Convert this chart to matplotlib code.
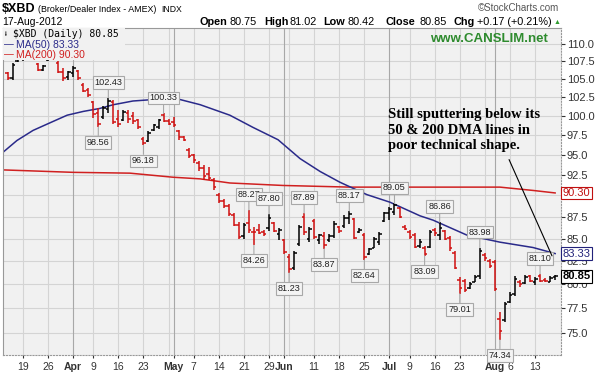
import numpy as np
import pandas as pd
import matplotlib
matplotlib.use("Agg")
import matplotlib.pyplot as plt
from matplotlib.patches import Rectangle

plt.rcParams["font.family"] = ["Liberation Sans", "DejaVu Sans"]

W, H = 598, 374

# ---------------- data ----------------
days = pd.bdate_range("2012-03-14", "2012-08-17")
days = days[~days.isin(pd.to_datetime(["2012-04-06", "2012-05-28", "2012-07-04"]))]

opens = [105.8, 105.1, 107.6, 107.9, 108.4, 108.0, 107.1, 106.3, 107.7, 108.7,
         107.3, 106.0, 105.3, 105.8, 106.2, 104.2, 103.5, 101.8, 100.4, 99.8,
         100.9, 101.9, 99.6, 99.5, 100.4, 100.0, 99.4, 97.0, 96.7, 98.2,
         98.6, 100.1, 99.3, 99.2, 98.0, 97.2, 95.6, 94.9, 94.0, 93.3,
         92.6, 91.9, 90.1, 89.4, 88.8, 87.7, 86.6, 85.3, 86.8, 85.8,
         86.0, 85.7, 86.2, 86.8, 85.5, 84.8, 83.0, 81.7, 84.4, 87.5,
         85.0, 87.0, 84.8, 85.3, 84.8, 85.3, 86.3, 86.4, 87.3, 87.2,
         85.7, 85.4, 83.3, 84.0, 84.6, 87.0, 87.9, 88.1, 88.5, 86.3,
         85.8, 85.4, 84.2, 84.0, 84.1, 86.0, 85.4, 85.9, 85.1, 83.4,
         80.5, 80.4, 79.6, 80.3, 80.9, 83.2, 82.5, 82.4, 76.4, 76.3,
         78.2, 79.0, 80.3, 80.1, 80.9, 80.2, 80.9, 80.5, 80.3, 80.75]
highs = [106.0, 107.3, 108.4, 109.0, 108.6, 108.5, 107.3, 107.0, 108.8, 108.9,
         107.5, 106.5, 106.1, 106.8, 106.3, 104.5, 103.8, 102.0, 101.0, 101.3,
         102.43, 102.1, 100.8, 100.8, 100.8, 100.5, 99.6, 97.3, 98.0, 99.0,
         99.6, 100.33, 99.6, 99.9, 98.2, 97.4, 95.8, 95.1, 94.2, 93.7,
         93.5, 92.1, 90.3, 89.6, 89.0, 87.9, 86.9, 86.8, 88.27, 86.3,
         86.7, 86.0, 87.80, 86.9, 86.2, 84.9, 83.3, 83.6, 86.6, 87.89,
         86.3, 87.2, 85.5, 85.7, 85.5, 87.0, 86.4, 87.7, 88.17, 87.3,
         86.2, 85.6, 83.9, 85.2, 85.7, 88.1, 88.6, 89.05, 88.6, 86.5,
         86.0, 85.6, 85.0, 84.2, 86.0, 86.2, 86.86, 86.0, 85.3, 83.6,
         80.8, 80.6, 80.2, 81.0, 83.98, 83.4, 82.7, 82.6, 77.1, 78.1,
         79.2, 80.9, 80.5, 81.0, 81.0, 80.8, 81.10, 80.7, 80.9, 81.02]
lows = [104.9, 104.9, 107.4, 107.5, 107.8, 107.8, 106.1, 106.1, 107.6, 107.8,
        105.8, 104.8, 104.9, 105.3, 104.9, 103.2, 102.6, 99.7, 98.56, 99.6,
        100.4, 98.9, 98.5, 99.3, 99.1, 98.9, 98.3, 96.18, 96.6, 98.0,
        98.3, 99.2, 98.8, 98.6, 96.9, 96.7, 94.6, 94.0, 93.0, 91.9,
        91.9, 90.7, 89.1, 88.5, 87.6, 86.4, 85.0, 85.0, 85.6, 84.26,
        85.5, 85.3, 85.9, 85.7, 84.8, 83.3, 81.23, 81.5, 84.2, 85.4,
        84.6, 85.0, 84.4, 83.87, 84.6, 85.1, 85.6, 86.2, 86.7, 84.9,
        85.6, 82.64, 83.2, 83.9, 84.3, 86.9, 87.1, 87.7, 87.3, 86.0,
        84.9, 83.9, 84.0, 83.09, 84.0, 85.3, 84.8, 84.8, 83.6, 81.6,
        79.01, 79.2, 79.5, 80.2, 80.6, 82.5, 81.7, 79.3, 74.34, 76.1,
        78.0, 78.8, 79.7, 80.0, 80.3, 79.9, 80.2, 80.3, 80.2, 80.42]
closes = [105.1, 107.0, 108.0, 108.7, 108.0, 108.1, 106.3, 106.9, 108.6, 107.9,
          106.0, 105.2, 106.0, 106.5, 105.2, 103.4, 102.8, 100.2, 98.9, 101.0,
          102.0, 99.2, 99.0, 100.5, 99.6, 99.3, 98.5, 96.5, 97.8, 98.8,
          99.5, 99.3, 99.0, 98.8, 97.2, 96.8, 94.8, 94.3, 93.3, 92.3,
          92.1, 91.0, 89.4, 88.8, 87.8, 86.6, 85.2, 86.5, 86.0, 85.7,
          85.6, 85.5, 87.4, 85.9, 86.0, 83.5, 81.6, 83.4, 86.3, 85.8,
          86.1, 85.2, 85.4, 84.3, 85.3, 86.7, 85.9, 87.4, 87.8, 85.1,
          86.0, 83.0, 83.8, 85.0, 85.5, 87.9, 88.4, 88.9, 87.5, 86.1,
          85.2, 84.1, 84.6, 83.3, 85.8, 85.6, 86.2, 85.0, 84.0, 81.8,
          79.6, 79.4, 80.0, 80.8, 83.6, 82.8, 82.0, 79.5, 75.2, 77.9,
          78.9, 80.6, 80.0, 80.8, 80.4, 80.6, 80.4, 80.35, 80.68, 80.85]

# moving averages (bar index, value)
ma50_pos = [-0.98, 1.8, 5.0, 8.4, 11.8, 15.0, 18.3, 21.0, 24.9, 29.0, 33.7, 38.3,
            44.2, 48.8, 53.8, 58.2, 62.2, 66.1, 71.5, 76.1, 82.1, 84.7, 91.4,
            98.0, 104.6, 109.0]
ma50_val = [95.3, 96.8, 98.1, 99.1, 100.1, 100.6, 101.0, 101.5, 102.0, 102.2, 102.3,
            101.5, 100.1, 98.5, 96.9, 94.5, 92.9, 91.6, 90.1, 89.2, 87.6, 87.1,
            85.4, 84.6, 84.0, 83.33]
ma200_pos = [-0.98, 13.0, 24.3, 32.9, 38.3, 44.2, 54.8, 68.1, 88.1, 98.0, 104.6, 109.0]
ma200_val = [93.1, 92.8, 92.7, 92.2, 92.0, 91.5, 91.2, 91.0, 91.0, 91.0, 90.6, 90.30]

peak_bars = [20, 31, 48, 52, 59, 68, 77, 86, 94, 106]
trough_bars = [18, 27, 49, 56, 63, 71, 83, 90, 98]

# ---------------- figure ----------------
fig = plt.figure(figsize=(W / 100, H / 100), dpi=100)
fig.patch.set_facecolor("white")


def px(x, y):
    return x / W, 1 - y / H


BG = "#F1F1F1"
L, R, T, B = 3, 560.5, 28, 355
ax = fig.add_axes([L / W, 1 - B / H, (R - L) / W, (B - T) / H])
ax.set_facecolor(BG)
ax.set_yscale("log")
ax.set_ylim(72.85, 112.36)
ax.set_xlim(-0.98, 110.07)

xs = np.arange(len(closes))
red = "#D01010"
cols = []
for i in range(len(closes)):
    ref = opens[i] if i == 0 else closes[i - 1]
    cols.append(red if closes[i] < ref else "black")

# grid
yt = np.arange(75, 110.01, 2.5)
for v in yt:
    ax.axhline(v, color="#D4D4D4", lw=0.8, zorder=0)

labels = []
for i, d in enumerate(days):
    if i == 0:
        continue
    prev = days[i - 1]
    if d.month != prev.month:
        labels.append((i, d.strftime("%b"), True))
    elif d.isocalendar().week != prev.isocalendar().week:
        labels.append((i, str(d.day), False))
month_pos = [p for p, _, m in labels if m]
tick_items = []
for p, t, m in labels:
    if not m and min(abs(p - q) for q in month_pos) <= 2:
        continue
    tick_items.append((p, t, m))
for p, t, m in labels:
    ax.axvline(p, color="#A8A8A8" if m else "#D4D4D4", lw=0.8, zorder=0)

# moving averages
ax.plot(ma200_pos, ma200_val, color="#D02020", lw=1.1, zorder=2)
ax.plot(ma50_pos, ma50_val, color="#2A2A8A", lw=1.1, zorder=2)

# OHLC bars
ax.vlines(xs, lows, highs, colors=cols, lw=1.1, zorder=3)
ax.hlines(opens, xs - 0.5, xs, colors=cols, lw=1.1, zorder=3)
ax.hlines(closes, xs, xs + 0.5, colors=cols, lw=1.1, zorder=3)

# price labels
bb = dict(boxstyle="square,pad=0.2", fc="#F4F4F4", ec="#A8A8A8", lw=0.8)
for i in peak_bars:
    ax.annotate(f"{highs[i]:.2f}", (xs[i], highs[i]), xytext=(0, 8), textcoords="offset points",
                ha="center", va="bottom", fontsize=6.6, color="#222222", bbox=bb, zorder=5,
                arrowprops=dict(arrowstyle="-", color="#A8A8A8", lw=0.8, shrinkA=0, shrinkB=0))
for i in trough_bars:
    ax.annotate(f"{lows[i]:.2f}", (xs[i], lows[i]), xytext=(0, -8), textcoords="offset points",
                ha="center", va="top", fontsize=6.6, color="#222222", bbox=bb, zorder=5,
                arrowprops=dict(arrowstyle="-", color="#A8A8A8", lw=0.8, shrinkA=0, shrinkB=0))

# legend background (hides bars under the legend like the original)
ax.add_patch(Rectangle(px(3, 60), (125 - 3) / W, 32 / H, transform=fig.transFigure,
                       fc=BG, ec="none", zorder=8))

# axes styling
ax.yaxis.tick_right()
ax.set_yticks(yt)
ax.set_yticklabels([f"{v:.1f}" for v in yt])
ax.yaxis.set_minor_locator(matplotlib.ticker.NullLocator())
ax.tick_params(axis="y", which="major", labelsize=8, length=3, pad=1.5, colors="#333333")
ax.set_xticks([p for p, _, _ in tick_items])
ax.set_xticklabels([t for _, t, _ in tick_items])
for lab, (_, _, m) in zip(ax.get_xticklabels(), tick_items):
    lab.set_fontweight("bold" if m else "normal")
    lab.set_fontsize(7.5)
ax.tick_params(axis="x", length=2, pad=3, colors="#333333")
for s in ax.spines.values():
    s.set_color("#999999")
    s.set_linewidth(0.8)
ax.spines["right"].set_linestyle(":")
ax.spines["bottom"].set_linestyle(":")

# right side value tags
tagx = 1.004
ax.text(tagx, ma200_val[-1], f"{ma200_val[-1]:.2f}", transform=ax.get_yaxis_transform(),
        ha="left", va="center", fontsize=8, color="#C01010", zorder=6,
        bbox=dict(boxstyle="square,pad=0.12", fc="white", ec="#C01010", lw=0.8), clip_on=False)
ax.text(tagx, ma50_val[-1], f"{ma50_val[-1]:.2f}", transform=ax.get_yaxis_transform(),
        ha="left", va="center", fontsize=8, color="#22227A", zorder=6,
        bbox=dict(boxstyle="square,pad=0.12", fc="white", ec="#22227A", lw=0.8), clip_on=False)
ax.text(tagx, closes[-1], f"{closes[-1]:.2f}", transform=ax.get_yaxis_transform(),
        ha="left", va="center", fontsize=8, color="black", fontweight="bold", zorder=7,
        bbox=dict(boxstyle="square,pad=0.12", fc="white", ec="black", lw=0.8), clip_on=False)

# in-plot legend
fig.text(*px(13, 34), f"$XBD (Daily) {closes[-1]:.2f}", family="DejaVu Sans Mono", fontsize=7,
         va="center", ha="left", color="black", zorder=10)
fig.text(*px(5, 34), "\u0268", fontsize=6, va="center", ha="left", color="black", zorder=11)
fig.text(*px(4, 44.5), "\u2014", fontsize=7, va="center", ha="left", color="#2A2A8A", zorder=11)
fig.text(*px(16, 44.5), f"MA(50) {ma50_val[-1]:.2f}", fontsize=7.5, va="center", ha="left",
         color="#2A2A8A", zorder=10)
fig.text(*px(4, 54.5), "\u2014", fontsize=7, va="center", ha="left", color="#D02020", zorder=11)
fig.text(*px(16, 54.5), f"MA(200) {ma200_val[-1]:.2f}", fontsize=7.5, va="center", ha="left",
         color="#D02020", zorder=10)

fig.text(*px(548, 39), "www.CANSLIM.net", fontsize=9.5, fontweight="bold", color="#2E8B2E",
         ha="right", va="center", zorder=10)

# commentary
fig.text(*px(388, 130), "Still sputtering below its\n50 & 200 DMA lines in\npoor technical shape.",
         family="Liberation Serif", fontweight="bold", fontsize=10.5, ha="left", va="center",
         linespacing=1.27, color="black")
ax.annotate("", xy=(108.6, 82.8), xytext=(99.6, 94.7),
            arrowprops=dict(arrowstyle="-", color="black", lw=0.8), zorder=6)

# header
fig.text(*px(2, 12), "$XBD", fontsize=9, fontweight="bold", ha="left", va="baseline")
fig.text(*px(38, 12), "(Broker/Dealer Index - AMEX)", fontsize=6.4, ha="left", va="baseline")
fig.text(*px(161, 12), "INDX", fontsize=6.2, ha="left", va="baseline")
fig.text(*px(2, 25), "17-Aug-2012", fontsize=7.5, ha="left", va="baseline")
hdr = [(199, "Open", True), (230, f"{opens[-1]:.2f}", False), (264, "High", True),
       (289, f"{highs[-1]:.2f}", False), (323, "Low", True), (348, f"{lows[-1]:.2f}", False),
       (385, "Close", True), (420, f"{closes[-1]:.2f}", False), (453, "Chg", True),
       (477, f"{closes[-1] - closes[-2]:+.2f} ({(closes[-1] / closes[-2] - 1) * 100:+.2f}%)", False)]
for x, t, b in hdr:
    fig.text(*px(x, 25), t, fontsize=7.8, fontweight="bold" if b else "normal", ha="left",
             va="baseline")
fig.text(*px(557, 22.5), "\u25B2", fontsize=5, color="#2E9B2E", ha="center", va="center")
fig.text(*px(559, 8), "\u00A9StockCharts.com", fontsize=7, color="#555555", ha="right", va="center")

fig.savefig("out.png", dpi=100, facecolor="white")
